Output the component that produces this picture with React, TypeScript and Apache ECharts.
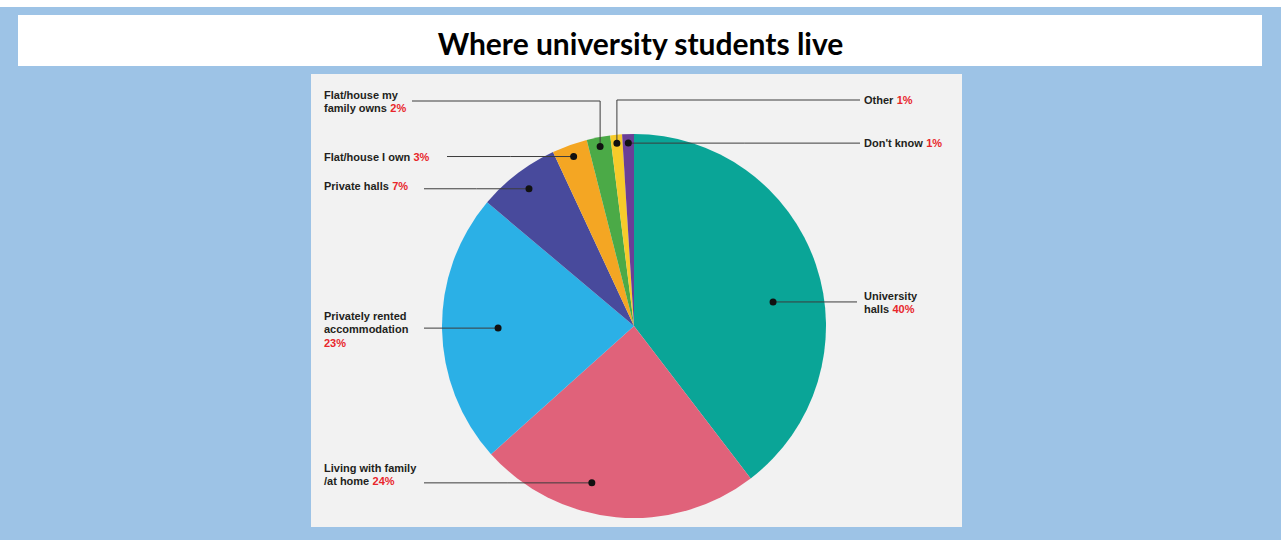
import React, { useEffect, useRef } from 'react';
import * as echarts from 'echarts';

// ---------- data ----------
const categories = [
  'University halls',
  'Living with family /at home',
  'Privately rented accommodation',
  'Private halls',
  'Flat/house I own',
  'Flat/house my family owns',
  'Other',
  "Don't know",
];
const labelTexts = [
  'University\nhalls',
  'Living with family\n/at home',
  'Privately rented\naccommodation\n',
  'Private halls',
  'Flat/house I own',
  'Flat/house my\nfamily owns',
  'Other',
  "Don't know",
];
const values = [40, 24, 23, 7, 3, 2, 1, 1];
const colors = ['#0AA597', '#E0627A', '#2BB0E6', '#484A9C', '#F4A623', '#4BAA47', '#F7CB2A', '#6A3F97'];
const titleText = 'Where university students live';

// ---------- layout (positions only) ----------
const CX = 634;
const CY = 326;
const R = 192;
type Cfg = { lx: number; ly: number; k: number; rot: number; endX: number; elbowY?: number };
const LAYOUT: Cfg[] = [
  { lx: 864, ly: 289, k: 0.735, rot: 8.9, endX: 857 },
  { lx: 324, ly: 461, k: 0.846, rot: 9.7, endX: 424 },
  { lx: 324, ly: 309, k: 0.708, rot: 0, endX: 424 },
  { lx: 324, ly: 179, k: 0.9, rot: 0, endX: 424 },
  { lx: 324, ly: 150, k: 0.937, rot: 0, endX: 447 },
  { lx: 324, ly: 88, k: 0.951, rot: 0, endX: 412, elbowY: 101 },
  { lx: 864, ly: 93, k: 0.956, rot: 0, endX: 860, elbowY: 100 },
  { lx: 864, ly: 136, k: 0.953, rot: 0, endX: 860 },
];

function dotPos(params: any): [number, number] {
  const cfg = LAYOUT[params.dataIndex];
  const pts = params.labelLinePoints;
  let ux = 0;
  let uy = -1;
  if (pts && pts[0]) {
    const dx = pts[0][0] - CX;
    const dy = pts[0][1] - CY;
    const len = Math.sqrt(dx * dx + dy * dy) || 1;
    ux = dx / len;
    uy = dy / len;
  }
  const d = (cfg.rot * Math.PI) / 180;
  const rx = ux * Math.cos(d) - uy * Math.sin(d);
  const ry = ux * Math.sin(d) + uy * Math.cos(d);
  return [CX + rx * cfg.k * R, CY + ry * cfg.k * R];
}

function leaderPoints(params: any): number[][] {
  const cfg = LAYOUT[params.dataIndex];
  const [dx, dy] = dotPos(params);
  return cfg.elbowY != null
    ? [[dx, dy], [dx, cfg.elbowY], [cfg.endX, cfg.elbowY]]
    : [[dx, dy], [(dx + cfg.endX) / 2, dy], [cfg.endX, dy]];
}

const FONT = '"Liberation Sans", Arial, sans-serif';

export default function App() {
  const ref = useRef<HTMLDivElement>(null);

  useEffect(() => {
    if (!ref.current) return;
    const chart = echarts.init(ref.current, undefined, { renderer: 'svg' });
    const data = categories.map((name, i) => ({
      name,
      value: values[i],
      itemStyle: { color: colors[i] },
    }));

    chart.setOption({
      animation: false,
      backgroundColor: '#FFFFFF',
      title: {
        text: titleText,
        left: 'center',
        top: 23,
        textStyle: { fontFamily: 'Lato, "Open Sans", sans-serif', fontWeight: 'bold', fontSize: 30, color: '#000000' },
      },
      graphic: [
        { type: 'rect', z: -10, silent: true, shape: { x: 0, y: 7, width: 1281, height: 533 }, style: { fill: '#9DC3E6' } },
        { type: 'rect', z: -9, silent: true, shape: { x: 18, y: 15, width: 1244, height: 51 }, style: { fill: '#FFFFFF' } },
        { type: 'rect', z: -9, silent: true, shape: { x: 311, y: 74, width: 651, height: 453 }, style: { fill: '#F2F2F2' } },
      ],
      series: [
        {
          type: 'pie',
          center: [CX, CY],
          radius: R,
          startAngle: 90,
          clockwise: true,
          avoidLabelOverlap: false,
          silent: true,
          z: 2,
          data,
          label: {
            show: true,
            position: 'outside',
            formatter: (p: any) => {
              const t = labelTexts[p.dataIndex];
              const sep = t.endsWith('\n') ? '' : ' ';
              return `{n|${t}}${sep}{p|${values[p.dataIndex]}%}`;
            },
            rich: {
              n: { fontFamily: FONT, fontWeight: 'bold', fontSize: 11, color: '#231F20', lineHeight: 13.5 },
              p: { fontFamily: FONT, fontWeight: 'bold', fontSize: 11, color: '#E8262B', lineHeight: 13.5 },
            },
          },
          labelLine: { show: true, lineStyle: { opacity: 0, width: 0 } },
          labelLayout: (params: any) => {
            const cfg = LAYOUT[params.dataIndex];
            return {
              x: cfg.lx,
              y: cfg.ly,
              align: 'left',
              verticalAlign: 'top',
              labelLinePoints: leaderPoints(params),
              hideOverlap: false,
            };
          },
        },
        {
          type: 'pie',
          center: [CX, CY],
          radius: R,
          startAngle: 90,
          clockwise: true,
          avoidLabelOverlap: false,
          silent: true,
          z: 5,
          data: categories.map((name, i) => ({ name, value: values[i] })),
          itemStyle: { color: 'rgba(0,0,0,0)' },
          emphasis: { disabled: true },
          label: {
            show: true,
            position: 'outside',
            formatter: '{d| }',
            rich: { d: { width: 7, height: 7, backgroundColor: '#111111', borderRadius: 3.5, fontSize: 1, lineHeight: 7 } },
          },
          labelLine: { show: true, lineStyle: { color: '#3C3C3C', width: 1, opacity: 1 } },
          labelLayout: (params: any) => {
            const [x, y] = dotPos(params);
            return {
              x,
              y,
              align: 'center',
              verticalAlign: 'middle',
              labelLinePoints: leaderPoints(params),
              hideOverlap: false,
            };
          },
        },
      ],
    });

    return () => chart.dispose();
  }, []);

  return <div ref={ref} style={{ position: 'absolute', left: 0, top: 0, width: 1281, height: 540 }} />;
}
